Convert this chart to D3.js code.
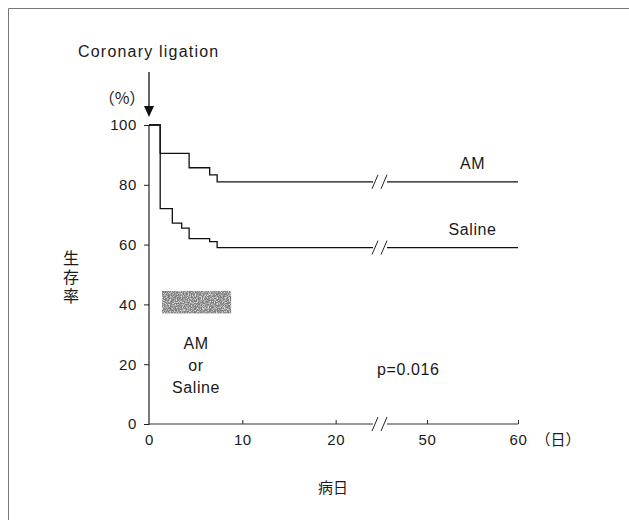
<!DOCTYPE html>
<html>
<head>
<meta charset="utf-8">
<script src="https://cdn.jsdelivr.net/npm/d3@7"></script>
<style>
  body { margin: 0; background: #fff; }
  text { font-family: "Liberation Sans", Arial, sans-serif; fill: #1a1a1a; }
  .jp { font-family: "Noto Sans CJK JP", sans-serif; }
</style>
</head>
<body>
<div id="chart"></div>
<script>
// survival (%) by day
const amDays = [0, 1.2, 4.3, 6.5, 7.3];
const amSurv = [100, 90.5, 85.7, 83.3, 81];
const salineDays = [0, 1.2, 2.5, 3.5, 4.3, 6.5, 7.3];
const salineSurv = [100, 72, 67.2, 65.5, 62, 61, 59];

const xTicks = [0, 10, 20, 50, 60];
const yTicks = [0, 20, 40, 60, 80, 100];
const breakFrom = 24, breakTo = 45.6;   // axis is cut between these days
const treatDays = [1.4, 8.8];            // AM or Saline infusion
const treatBand = [37, 44.5];

const width = 629, height = 520;

const svg = d3.select("#chart").append("svg")
  .attr("width", width).attr("height", height);

const defs = svg.append("defs");
const grain = defs.append("filter").attr("id", "grain")
  .attr("x", 0).attr("y", 0).attr("width", 1).attr("height", 1);
grain.append("feTurbulence").attr("type", "fractalNoise")
  .attr("baseFrequency", 0.85).attr("numOctaves", 2).attr("seed", 4).attr("result", "n");
grain.append("feColorMatrix").attr("in", "n").attr("type", "matrix")
  .attr("values", "0 0 0 0 0.2  0 0 0 0 0.2  0 0 0 0 0.2  -3.2 0 0 0 2.3")
  .attr("result", "dots");
grain.append("feComposite").attr("in", "dots").attr("in2", "SourceGraphic").attr("operator", "in");

// frame of the scanned page
svg.append("path")
  .attr("d", "M8.5,520 V8.5 H629")
  .attr("fill", "none").attr("stroke", "#777").attr("stroke-width", 1);

const x = d3.scaleLinear()
  .domain([0, breakFrom, breakTo, 60])
  .range([149, 373, 387, 518]);
const y = d3.scaleLinear().domain([0, 100]).range([424, 125]);

const line = d3.line().x(d => x(d[0])).y(d => y(d[1])).curve(d3.curveStepAfter);

function breakMark(g, cx, cy) {
  [-5, 4].forEach(o => {
    g.append("line")
      .attr("x1", cx + o - 3).attr("y1", cy + 7)
      .attr("x2", cx + o + 3).attr("y2", cy - 7)
      .attr("stroke", "#222").attr("stroke-width", 1);
  });
}
const cut = (x(breakFrom) + x(breakTo)) / 2;

// y axis
const yAxis = svg.append("g")
  .attr("transform", `translate(${x(0)},0)`)
  .call(d3.axisLeft(y).tickValues(yTicks).tickSize(5).tickPadding(7));
yAxis.select(".domain").remove();
yAxis.selectAll("line").attr("stroke", "#222");
yAxis.selectAll("text").attr("font-size", 15).attr("fill", "#1a1a1a")
  .style("font-family", "Liberation Sans, Arial, sans-serif").attr("letter-spacing", 0.6);
svg.append("line")
  .attr("x1", x(0)).attr("x2", x(0)).attr("y1", y(100)).attr("y2", y(0) + 1)
  .attr("stroke", "#222").attr("stroke-width", 1.2);

// x axis
const xAxis = svg.append("g")
  .attr("transform", `translate(0,${y(0)})`)
  .call(d3.axisBottom(x).tickValues(xTicks).tickSize(-4).tickPadding(10));
xAxis.select(".domain").remove();
xAxis.selectAll("line").attr("stroke", "#222");
xAxis.selectAll(".tick").filter(d => d === 0).select("line").remove();
xAxis.selectAll("text").attr("font-size", 15).attr("fill", "#1a1a1a")
  .style("font-family", "Liberation Sans, Arial, sans-serif").attr("letter-spacing", 0.6);
[[0, breakFrom], [breakTo, 60]].forEach(s => {
  svg.append("line")
    .attr("x1", x(s[0])).attr("x2", x(s[1])).attr("y1", y(0)).attr("y2", y(0))
    .attr("stroke", "#333").attr("stroke-width", 1);
});
breakMark(svg, cut, y(0));

// curves
const series = [
  { name: "AM", days: amDays, surv: amSurv },
  { name: "Saline", days: salineDays, surv: salineSurv }
];
series.forEach(s => {
  const pts = s.days.map((d, i) => [d, s.surv[i]]);
  const last = s.surv[s.surv.length - 1];
  pts.push([breakFrom, last]);
  svg.append("path").attr("d", line(pts))
    .attr("fill", "none").attr("stroke", "#111").attr("stroke-width", 1.3);
  svg.append("path").attr("d", line([[breakTo, last], [60, last]]))
    .attr("fill", "none").attr("stroke", "#111").attr("stroke-width", 1.3);
  breakMark(svg, cut, y(last));
  svg.append("text")
    .attr("x", x(55)).attr("y", y(last) - 13)
    .attr("text-anchor", "middle").attr("font-size", 16).attr("letter-spacing", 0.6)
    .text(s.name);
});

// treatment band
const band = {
  x: x(treatDays[0]), y: y(treatBand[1]),
  w: x(treatDays[1]) - x(treatDays[0]), h: y(treatBand[0]) - y(treatBand[1])
};
svg.append("rect")
  .attr("x", band.x).attr("y", band.y).attr("width", band.w).attr("height", band.h)
  .attr("fill", "#b5b5b5").attr("opacity", 0.45);
svg.append("rect")
  .attr("x", band.x).attr("y", band.y).attr("width", band.w).attr("height", band.h)
  .attr("fill", "#fff").attr("filter", "url(#grain)");

const treat = svg.append("text").attr("text-anchor", "middle").attr("font-size", 16).attr("letter-spacing", 0.6);
[["AM", 349], ["or", 371], ["Saline", 393]].forEach(t => {
  treat.append("tspan").attr("x", 196).attr("y", t[1]).text(t[0]);
});

// annotations
svg.append("text").attr("x", 78).attr("y", 57)
  .attr("font-size", 16).attr("letter-spacing", 1.2).text("Coronary ligation");
svg.append("line")
  .attr("x1", x(0)).attr("x2", x(0)).attr("y1", 72).attr("y2", 108)
  .attr("stroke", "#111").attr("stroke-width", 1.3);
svg.append("path")
  .attr("d", `M${x(0) - 5},106 L${x(0) + 5},106 L${x(0)},117 Z`)
  .attr("fill", "#111");

svg.append("text").attr("class", "jp").attr("x", 122).attr("y", 104)
  .attr("text-anchor", "middle").attr("font-size", 16).text("（%）");
svg.append("text").attr("class", "jp").attr("x", 558).attr("y", 445)
  .attr("text-anchor", "middle").attr("font-size", 15).text("（日）");
svg.append("text").attr("class", "jp").attr("x", 333).attr("y", 493)
  .attr("text-anchor", "middle").attr("font-size", 15).text("病日");

svg.append("text").attr("class", "jp")
  .attr("x", 71).attr("y", 250)
  .attr("writing-mode", "tb").attr("font-size", 16).attr("letter-spacing", 3)
  .text("生存率");

svg.append("text").attr("x", 377).attr("y", 375)
  .attr("font-size", 16).attr("letter-spacing", 0.6).text("p=0.016");
</script>
</body>
</html>
